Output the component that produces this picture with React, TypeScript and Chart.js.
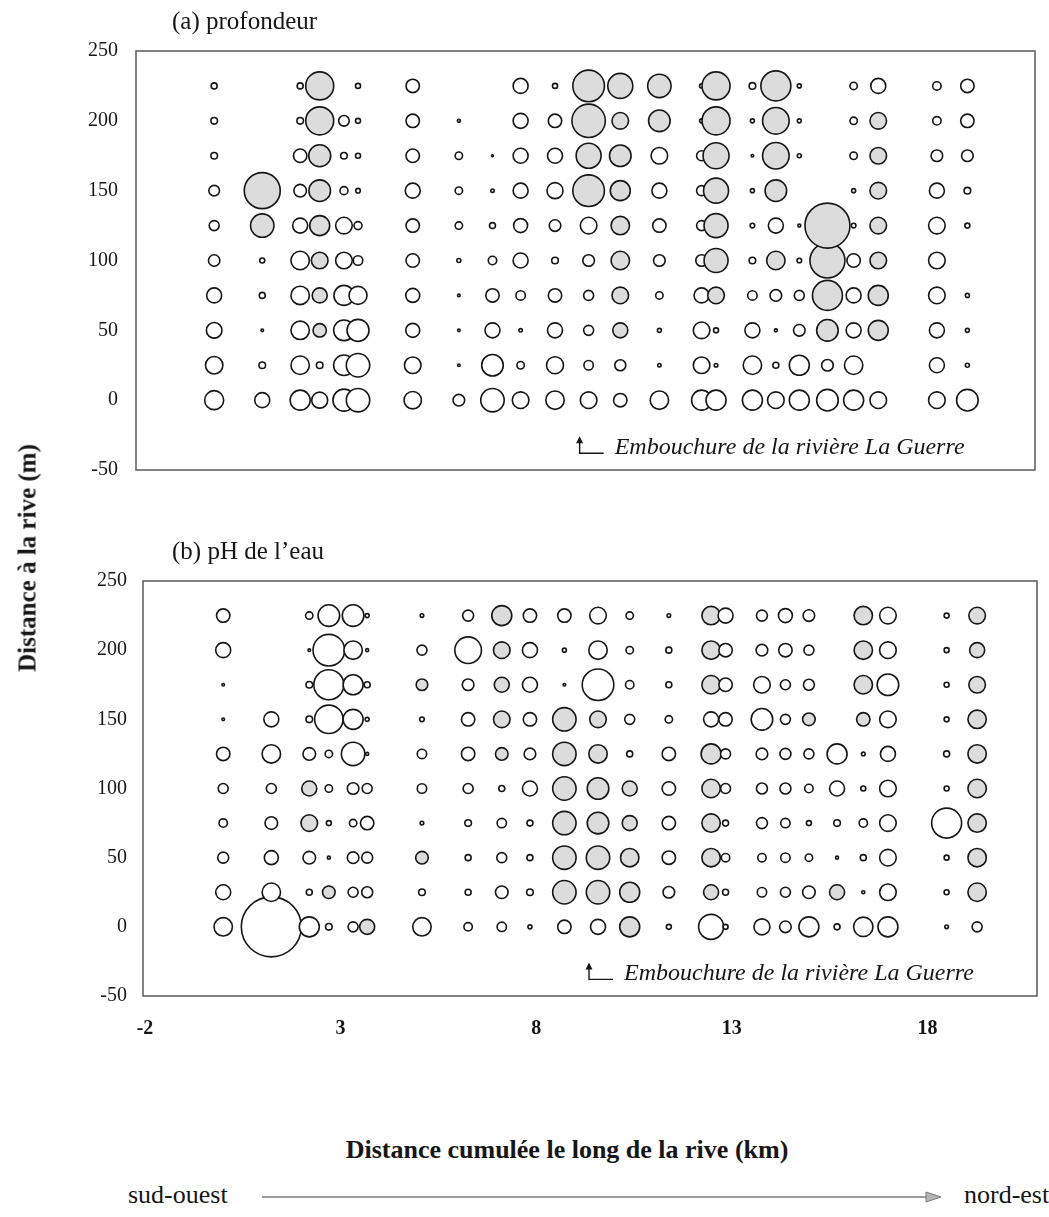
import React, { useEffect, useRef } from "react";
import { Chart, registerables } from "chart.js";

Chart.register(...registerables);

// ---------- data ----------
// Stations along the shore (cumulative distance, km), south-west -> north-east
const stationKm = [0, 1.23, 2.2, 2.7, 3.32, 3.68, 5.08, 6.26, 7.12, 7.84, 8.72, 9.58, 10.39, 11.39, 12.47, 12.84, 13.77, 14.37, 14.97, 15.69, 16.36, 16.99, 18.49, 19.27];
// Distance from the shore (m) for each row of the matrices below
const shoreDistM = [225, 200, 175, 150, 125, 100, 75, 50, 25, 0];
const yTicks = [250, 200, 150, 100, 50, 0, -50];
const xTicks = [-2, 3, 8, 13, 18];
const mouthKm = 9.35;
const mouthY = -38;
const mouthLabel = "Embouchure de la rivière La Guerre";

const N = null;
// (a) depth — signed deviations (positive = grey, negative = white), rows = shoreDistM
const depth: (number | null)[][] = [
  [-3, N, -3, 14, N, -2.5, -6.7, N, N, -7.5, -2.5, 15.8, 12.5, 11.7, -2, 14, -3.3, 15, -2, N, -3.7, -7.5, -4.2, -6.7],
  [-3.3, N, -3.3, 14, -5.3, -2.5, -6.7, -1.5, N, -7.5, -6.7, 16.7, 8.3, 10.8, -2, 14, -2, 13.3, -2, N, -3.7, 8.3, -4.2, -6.7],
  [-3.3, N, -6.7, 11, -3.3, -2.5, -6.7, -3.7, -1, -7.5, -7.5, 12.5, 10.8, -8.3, -5, 13, -1.3, 13.3, -2, N, -3.7, 8.3, -5.8, -5.8],
  [-5.3, 18, -6.3, 10.8, -4, -2.3, -7.5, -3.7, -1.7, -7.5, -8, 15.8, 10, -7.5, -5, 12.5, -2, 10.8, N, N, -2, 8.3, -7.5, -3.3],
  [-5, 11.7, -7.5, 10, -8.3, -4, -6.7, -3.7, -3, -7, -5.8, -8.3, 9.2, -6.7, -5, 12, -2.3, -7.5, -1.5, 22.5, -2.3, 8.3, -8.3, -2.5],
  [-5.7, -2.5, -9.2, 8.3, -8.3, -4.7, -6.7, -2, -4.2, -7.5, -3.3, -5.8, 9.2, -5.8, -5.8, 12, -3.3, 9.2, -2.3, 17.5, -6.7, 8.3, -8.3, N],
  [-7.5, -3, -9.2, 7.5, -10, -9, -7, -1.3, -6.7, -4.7, -6.7, -5, 8.3, -3.7, -7.5, 8.3, -4.7, -5.8, -5, 15, -7.5, 10, -8.3, -2],
  [-7.8, -1.3, -9.2, 6.7, -10.3, -11, -7, -1.3, -7.5, -1.7, -7.5, -5, 7.5, -2, -8.3, -2.5, -7.5, -1.5, -5.8, 10.8, -7.5, 10, -7.5, -2],
  [-8.7, -3.3, -9.2, -3.3, -10.3, -11.7, -8.3, -1.3, -10.8, -3.7, -8.5, -4.7, -5.5, -1.7, -8.3, -1.8, -9.2, -3, -10, -5.8, -9.2, N, -7.5, -2],
  [-9.5, -7.5, -10, -8, -11, -11.7, -8.7, -5.8, -11.7, -8.3, -9.2, -8.3, -6.7, -9.2, -10, -10, -10, -8.3, -10, -10.8, -10, -8.3, -8.3, -10.8],
];
// (b) water pH — signed deviations, rows = shoreDistM
const ph: (number | null)[][] = [
  [-6.7, N, -3.7, -10.8, -10.8, -2, -1.8, -5.5, 10, -6.7, -6.7, -8.3, -3.7, -1.8, 9.2, -7.5, -5.5, -7, -5.8, N, 9.2, -8.3, -2.5, 8.3],
  [-7.5, N, -1.3, -15.8, -9.2, -1.5, -5, -13.3, 8.3, -7.5, -2, -9.2, -3.7, -3, 9.2, -6.7, -5.8, -6.7, -5, N, 9.2, -8.3, -2.5, 7.5],
  [-1.3, N, -3.3, -15, -10, -3, 5.8, -5.8, 7.5, -7.5, -1.3, -15.8, -4.2, -3, 9.2, -6.7, -8.3, -5, -5.5, N, 9.2, -10.8, -2.5, 8.3],
  [-1.3, -7.5, -3.3, -14.2, -10, -2, -2.3, -6.7, 8.3, -6.7, 11.7, 8.3, -5, -3.7, -7.5, -6.7, -10.8, -5, 6.3, N, 6.7, -8.3, -2.5, 9.2],
  [-6.7, -9.2, -6.3, -3.7, -11.7, -1.5, -4.7, -6.7, 6.3, -5.8, 11.7, 9.2, -3, -6.7, 10, -5, -5.8, -5.5, -5, -10, -1.8, -7.5, -3, 9.2],
  [-5, -5, 7.5, -3.7, -5.8, -5, -4.7, -5, -3, -7.5, 11.7, 10.8, 7.5, -6.7, 9.2, -5, -5.5, -5.5, -4.2, -7.5, -2.5, -8.3, -2.5, 9.2],
  [-4.2, -6.3, 8.3, -2.5, -3.7, -6.7, -1.8, -3.3, -4.7, -3, 11.7, 10.8, 7.5, -6.7, 9.2, -3, -5.5, -4.7, -2.5, -3.3, -4.2, -8.3, -15, 9.2],
  [-5.5, -7, -6.3, -1.5, -5.8, -5.5, 6.3, -3, -5, -3, 11.7, 11.7, 9.2, -6.7, 9.2, -4.2, -4.2, -4.7, -3.7, -1.5, -3, -8.3, -2.5, 9.2],
  [-7.5, -9.2, -3, 6.3, -5, -5.5, -3.3, -3, -6.3, -3.3, 11.7, 11.7, 10, -5.8, 7.5, -3, -4.7, -5, -6.3, 7.5, -1.5, -8.3, -2.5, 9.2],
  [-9.2, -30, -10, -3.3, -5, 7.5, -9.2, -4.2, -4.7, -2, -6.7, -7.5, 10, -2.5, -12.5, -2.5, -8, -5.8, -10, -3, -9.7, -10, -1.8, -5],
];

// ---------- styling ----------
const RADIUS_SCALE = 1;
const SHADE = "#dcdcdc";
const INK = "#161616";
const SERIF = '"Liberation Serif", "Times New Roman", serif';

function buildPoints(matrix: (number | null)[][]) {
  const pts: any[] = [];
  for (let s = 0; s < stationKm.length; s++) {
    for (let r = matrix.length - 1; r >= 0; r--) {
      const v = matrix[r][s];
      if (v == null) continue;
      pts.push({ x: stationKm[s], y: shoreDistM[r], r: Math.abs(v) * RADIUS_SCALE, v });
    }
  }
  return pts;
}

const framePlugin = {
  id: "frame",
  afterDraw(chart: any) {
    const { ctx, chartArea: a } = chart;
    ctx.save();
    ctx.strokeStyle = "#5a5a5a";
    ctx.lineWidth = 1.5;
    ctx.strokeRect(a.left, a.top, a.right - a.left, a.bottom - a.top);
    ctx.restore();
  },
};

const mouthPlugin = {
  id: "mouth",
  afterDraw(chart: any) {
    const { ctx, scales } = chart;
    const x = scales.x.getPixelForValue(mouthKm);
    const base = scales.y.getPixelForValue(mouthY);
    ctx.save();
    ctx.strokeStyle = INK;
    ctx.fillStyle = INK;
    ctx.lineWidth = 1.4;
    ctx.beginPath();
    ctx.moveTo(x, base - 14);
    ctx.lineTo(x, base);
    ctx.lineTo(x + 24, base);
    ctx.stroke();
    ctx.beginPath();
    ctx.moveTo(x - 3.5, base - 10);
    ctx.lineTo(x, base - 17);
    ctx.lineTo(x + 3.5, base - 10);
    ctx.closePath();
    ctx.fill();
    ctx.font = `italic 24px ${SERIF}`;
    ctx.textBaseline = "alphabetic";
    ctx.textAlign = "left";
    ctx.fillText(mouthLabel, x + 35, base + 1);
    ctx.restore();
  },
};

type PanelProps = {
  matrix: (number | null)[][];
  top: number;
  height: number;
  padding: { top: number; right: number; bottom: number; left: number };
  yWidth: number;
  yPad: number;
  xMin: number;
  xMax: number;
  showX: boolean;
};

function Panel(p: PanelProps) {
  const ref = useRef<HTMLCanvasElement | null>(null);
  useEffect(() => {
    if (!ref.current) return;
    const chart = new Chart(ref.current, {
      type: "bubble",
      data: {
        datasets: [
          {
            data: buildPoints(p.matrix),
            backgroundColor: (c: any) => (c.raw && c.raw.v > 0 ? SHADE : "#ffffff"),
            borderColor: INK,
            borderWidth: 1.6,
          } as any,
        ],
      },
      options: {
        animation: false,
        responsive: false,
        devicePixelRatio: 1,
        events: [],
        layout: { padding: p.padding, autoPadding: false },
        plugins: { legend: { display: false }, tooltip: { enabled: false } },
        scales: {
          x: {
            type: "linear",
            min: p.xMin,
            max: p.xMax,
            display: p.showX,
            afterBuildTicks: (s: any) => {
              s.ticks = xTicks.map((value) => ({ value }));
            },
            afterFit: (s: any) => {
              if (p.showX) s.height = 64;
            },
            grid: { display: false, drawTicks: false },
            border: { display: false },
            ticks: {
              padding: 21,
              maxRotation: 0,
              autoSkip: false,
              color: INK,
              font: { family: SERIF, size: 20, weight: "bold" },
            },
          },
          y: {
            type: "linear",
            min: -50,
            max: 250,
            afterBuildTicks: (s: any) => {
              s.ticks = yTicks.map((value) => ({ value }));
            },
            afterFit: (s: any) => {
              s.width = p.yWidth;
            },
            grid: { display: false, drawTicks: false },
            border: { display: false },
            ticks: {
              padding: p.yPad,
              autoSkip: false,
              color: INK,
              font: { family: SERIF, size: 20 },
            },
          },
        },
      } as any,
      plugins: [framePlugin, mouthPlugin],
    });
    return () => chart.destroy();
  }, []);
  return (
    <canvas
      ref={ref}
      width={1049}
      height={p.height}
      style={{ position: "absolute", left: 0, top: p.top, width: 1049, height: p.height }}
    />
  );
}

const textBase: React.CSSProperties = {
  position: "absolute",
  fontFamily: SERIF,
  color: INK,
  lineHeight: 1,
  whiteSpace: "nowrap",
};

export default function App() {
  return (
    <div
      style={{
        position: "absolute",
        left: 0,
        top: 0,
        width: 1049,
        height: 1217,
        background: "#ffffff",
        overflow: "hidden",
      }}
    >
      <Panel
        matrix={depth}
        top={0}
        height={500}
        padding={{ top: 51, right: 14, bottom: 28, left: 0 }}
        yWidth={136}
        yPad={18}
        xMin={-2}
        xMax={21}
        showX={false}
      />
      <Panel
        matrix={ph}
        top={540}
        height={520}
        padding={{ top: 41, right: 12, bottom: 0, left: 0 }}
        yWidth={143}
        yPad={16}
        xMin={-2.05}
        xMax={20.8}
        showX={true}
      />
      <div style={{ ...textBase, left: 172, top: 8, fontSize: 25 }}>(a) profondeur</div>
      <div style={{ ...textBase, left: 172, top: 538, fontSize: 25 }}>(b) pH de l’eau</div>
      <div
        style={{
          ...textBase,
          left: 27,
          top: 558,
          fontSize: 25,
          fontWeight: "bold",
          transform: "translate(-50%, -50%) rotate(-90deg)",
        }}
      >
        Distance à la rive (m)
      </div>
      <div
        style={{
          ...textBase,
          left: 567,
          top: 1137,
          fontSize: 26,
          fontWeight: "bold",
          transform: "translateX(-50%)",
        }}
      >
        Distance cumulée le long de la rive (km)
      </div>
      <div style={{ ...textBase, left: 128, top: 1182, fontSize: 26 }}>sud-ouest</div>
      <div style={{ ...textBase, left: 964, top: 1182, fontSize: 26 }}>nord-est</div>
      <svg
        width={1049}
        height={40}
        style={{ position: "absolute", left: 0, top: 1177 }}
      >
        <line x1={262} y1={20} x2={930} y2={20} stroke="#7a7a7a" strokeWidth={1.6} />
        <polygon points="926,15 941,20 926,25" fill="#b5b5b5" stroke="#7a7a7a" strokeWidth={1} />
      </svg>
    </div>
  );
}
